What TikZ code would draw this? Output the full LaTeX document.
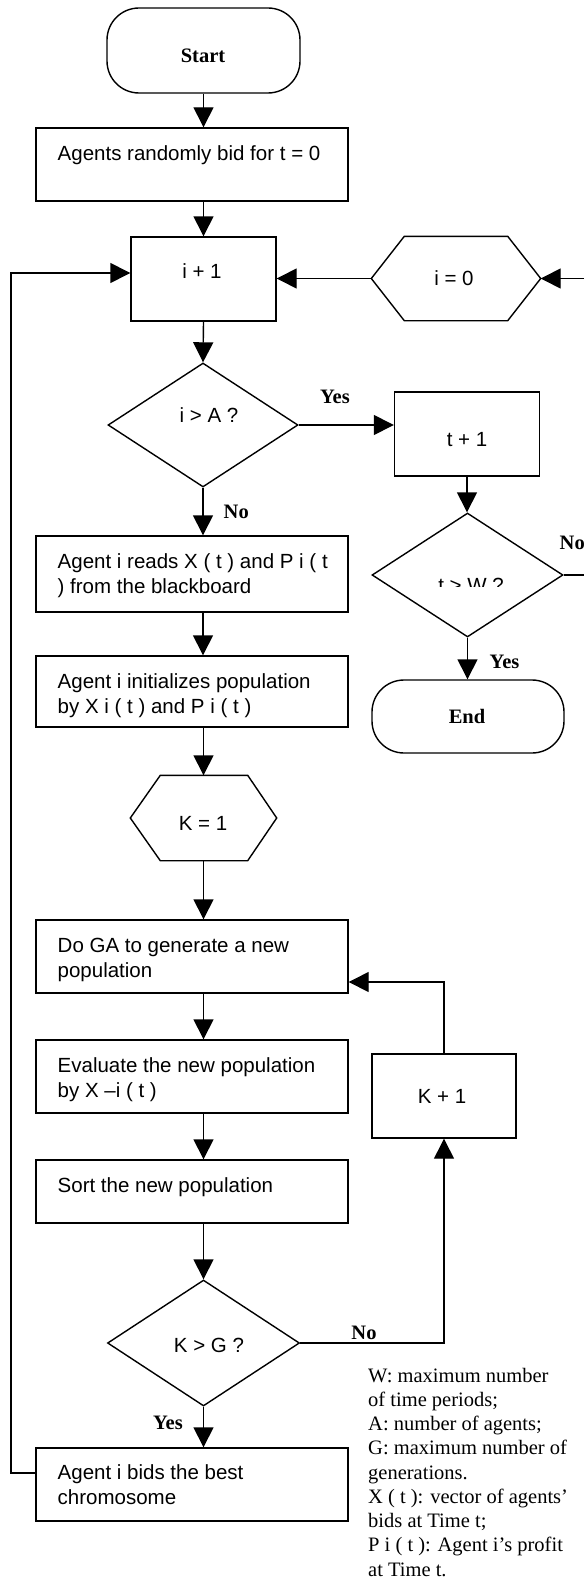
\documentclass[tikz,border=0pt]{standalone}
\usepackage{fontspec}
\setmainfont{Liberation Serif}
\newfontfamily\arialf{Liberation Sans}
\usetikzlibrary{arrows.meta,shapes.geometric}
\begin{document}
\begin{tikzpicture}[x=1pt,y=-1pt,line width=1.4pt,
  arr/.style={-{Triangle[width=20pt,length=20pt]}},
  box/.style={draw,rectangle,inner sep=0pt},
  term/.style={draw,rectangle,rounded corners=32pt,inner sep=0pt},
  dia/.style={draw,diamond,inner sep=0pt},
  hexa/.style={inner sep=0pt},
  sans/.style={font=\arialf\fontsize{20.5}{25}\selectfont,inner sep=0pt},
  serb/.style={font=\bfseries\fontsize{20.5}{25}\selectfont,inner sep=0pt},
  legend/.style={font=\fontsize{20.5}{24.25}\selectfont,inner sep=0pt}]
\useasboundingbox (0,0) rectangle (584,1581);

% shapes
\node[term,minimum width=193pt,minimum height=85pt] (start) at (203.5,50.5) {};
\node[box,minimum width=312pt,minimum height=73pt] (b1) at (192,164.5) {};
\node[box,minimum width=145pt,minimum height=84pt] (i1) at (203.5,279) {};
\node[hexa,minimum width=168pt,minimum height=83pt] (i0) at (456,278.5) {};
\draw (i0.west) -- ([xshift=33pt]i0.north west) -- ([xshift=-33pt]i0.north east) -- (i0.east)
      -- ([xshift=-33pt]i0.south east) -- ([xshift=33pt]i0.south west) -- cycle;
\node[dia,minimum width=190pt,minimum height=124pt] (iA) at (203,425) {};
\node[box,minimum width=145pt,minimum height=84pt] (t1) at (467,434) {};
\node[dia,minimum width=191pt,minimum height=124pt] (tW) at (467.5,575) {};
\node[term,minimum width=192pt,minimum height=73pt] (end) at (468,716.5) {};
\node[box,minimum width=312pt,minimum height=76pt] (read) at (192,574) {};
\node[box,minimum width=312pt,minimum height=71pt] (init) at (192,691.5) {};
\node[hexa,minimum width=145pt,minimum height=84pt] (K1) at (203.5,818) {};
\draw (K1.west) -- ([xshift=30pt]K1.north west) -- ([xshift=-29pt]K1.north east) -- (K1.east)
      -- ([xshift=-29pt]K1.south east) -- ([xshift=30pt]K1.south west) -- cycle;
\node[box,minimum width=312pt,minimum height=73pt] (doGA) at (192,956.5) {};
\node[box,minimum width=312pt,minimum height=73pt] (eval) at (192,1076.5) {};
\node[box,minimum width=312pt,minimum height=63pt] (sort) at (192,1191.5) {};
\node[dia,minimum width=192pt,minimum height=126pt] (KG) at (203.5,1343) {};
\node[box,minimum width=312pt,minimum height=73pt] (bids) at (192,1484.5) {};
\node[box,minimum width=144pt,minimum height=84pt] (Kp) at (444,1096) {};

% texts in shapes
\node[serb,anchor=base] (startt) at (203,63) {Start};
\node[serb,anchor=base] (endt) at (467,723) {End};
\node[sans,anchor=base west] (b1t) at (57,161) {Agents randomly bid for t = 0};
\node[sans,anchor=base] (i1t) at (202,278) {i + 1};
\node[sans,anchor=base] (i0t) at (454,285) {i = 0};
\node[sans,anchor=base] (iAt) at (209,422) {i > A ?};
\node[sans,anchor=base] (t1t) at (467,446) {t + 1};
\begin{scope}
  \clip (380,555) rectangle (560,586);
  \node[sans,anchor=base] (tWt) at (471,592) {t > W ?};
\end{scope}
\node[sans,anchor=base west] (readt) at (57,568)
  {\parbox[t]{285pt}{\raggedright Agent i reads X ( t ) and P i ( t\\ ) from the blackboard}};
\node[sans,anchor=base west] (initt) at (57,688)
  {\parbox[t]{285pt}{\raggedright Agent i initializes population\\ by X i ( t ) and P i ( t )}};
\node[sans,anchor=base] (K1t) at (203,830) {K = 1};
\node[sans,anchor=base west] (doGAt) at (57,952)
  {\parbox[t]{285pt}{\raggedright Do GA to generate a new\\ population}};
\node[sans,anchor=base west] (evalt) at (57,1072)
  {\parbox[t]{285pt}{\raggedright Evaluate the new population\\ by X \textendash i ( t )}};
\node[sans,anchor=base west] (sortt) at (57,1192) {Sort the new population};
\node[sans,anchor=base] (KGt) at (209,1352) {K > G ?};
\node[sans,anchor=base] (Kpt) at (442,1103) {K + 1};
\node[sans,anchor=base west] (bidst) at (57,1479)
  {\parbox[t]{285pt}{\raggedright Agent i bids the best\\ chromosome}};

% labels
\node[serb,anchor=base] (yes1) at (335,403) {Yes};
\node[serb,anchor=base west] (no1) at (223,518) {No};
\node[serb,anchor=base west] (no2) at (559,549) {No};
\node[serb,anchor=base west] (yes2) at (489,668) {Yes};
\node[serb,anchor=base] (no3) at (364,1339) {No};
\node[serb,anchor=base] (yes3) at (168,1429) {Yes};

% legend
\node[legend,anchor=base west] (leg) at (367.5,1382)
  {\parbox[t]{216pt}{\raggedright W: maximum number\\ of time periods;\\ A: number of agents;\\ G: maximum number of\\ generations.\\ X ( t ): vector of agents’\\ bids at Time t;\\ P i ( t ): Agent i’s profit\\ at Time t.}};

% free ends
\coordinate (rin) at (584,278.5);
\coordinate (rout) at (584,575);
\coordinate (lt) at (11,273);
\coordinate (lb) at (11,1473);
\coordinate (ly) at (444,982);

% connectors
\draw[arr] (start.south) -- (start.south |- b1.north);
\draw[arr] (b1.south -| i1.north) -- (i1.north);
\draw[arr] (rin) -- (i0.east);
\draw[arr] (i0.west) -- (i0.west -| i1.east);
\draw[arr] (bids.west |- lb) -- (lb) -- (lt) -- (lt -| i1.west);
\draw[arr] (i1.south) -- (iA.north);
\draw[arr] (iA.east) -- (iA.east -| t1.west);
\draw[arr] (t1.south) -- (t1.south |- tW.north);
\draw (tW.east) -- (rout);
\draw[arr] (tW.south) -- (tW.south |- end.north);
\draw[arr] (iA.south) -- (iA.south |- read.north);
\draw[arr] (read.south -| iA.south) -- (init.north -| iA.south);
\draw[arr] (init.south -| K1.north) -- (K1.north);
\draw[arr] (K1.south) -- (K1.south |- doGA.north);
\draw[arr] (doGA.south -| K1.south) -- (eval.north -| K1.south);
\draw[arr] (eval.south -| K1.south) -- (sort.north -| K1.south);
\draw[arr] (sort.south -| KG.north) -- (KG.north);
\draw[arr] (KG.south) -- (KG.south |- bids.north);
\draw[arr] (KG.east) -- (KG.east -| Kp.south) -- (Kp.south);
\draw[arr] (Kp.north) -- (Kp.north |- ly) -- (doGA.east |- ly);
\end{tikzpicture}
\end{document}
